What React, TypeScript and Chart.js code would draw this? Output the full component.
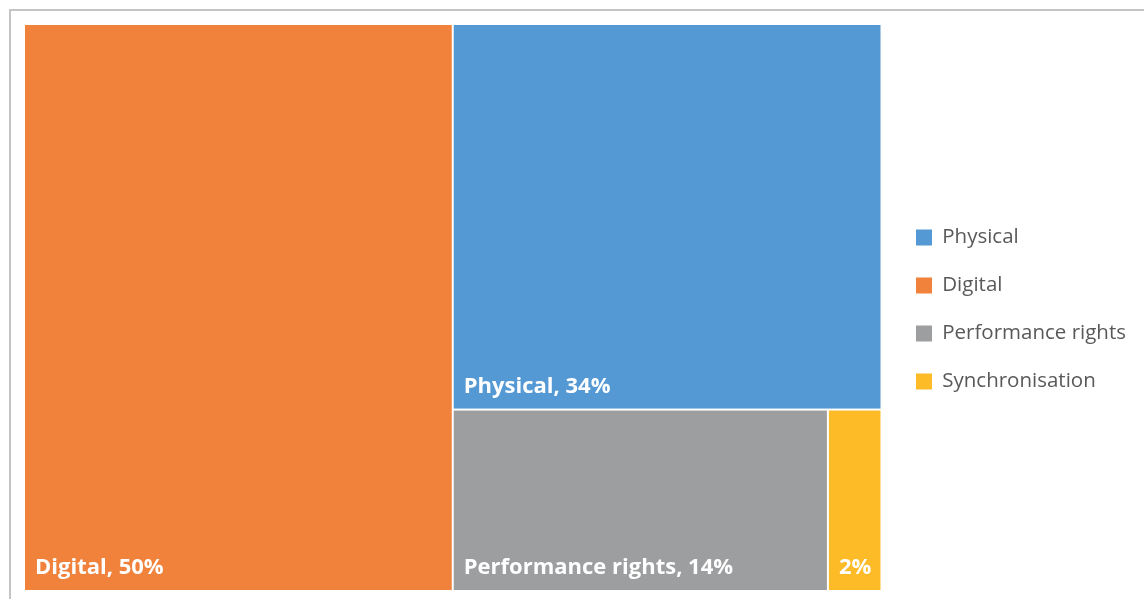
import React, { useEffect, useRef } from 'react';
import { Chart, registerables } from 'chart.js';

Chart.register(...registerables);

// ---- data ----
const categories = ['Physical', 'Digital', 'Performance rights', 'Synchronisation'];
const shares = [34, 50, 14, 2];
const colors = ['#5499D3', '#F1823C', '#9D9EA0', '#FDBB28'];

const LABEL_FONT = 'bold 22px "Open Sans"';

type Cell = { i: number; a: number };
type Rect = { i: number; x: number; y: number; w: number; h: number };

function worst(row: Cell[], side: number): number {
  const s = row.reduce((acc, c) => acc + c.a, 0);
  const mx = Math.max(...row.map((c) => c.a));
  const mn = Math.min(...row.map((c) => c.a));
  return Math.max((side * side * mx) / (s * s), (s * s) / (side * side * mn));
}

function squarify(cells: Cell[], x0: number, y0: number, w0: number, h0: number): Rect[] {
  const out: Rect[] = [];
  let remaining = cells.slice();
  let x = x0, y = y0, w = w0, h = h0;
  while (remaining.length) {
    const side = Math.min(w, h);
    let row = [remaining[0]];
    let k = 1;
    while (k < remaining.length) {
      const cand = [...row, remaining[k]];
      if (worst(cand, side) <= worst(row, side)) {
        row = cand;
        k++;
      } else break;
    }
    remaining = remaining.slice(k);
    const s = row.reduce((acc, c) => acc + c.a, 0);
    if (w >= h) {
      const rw = s / h;
      let cy = y;
      for (const c of row) {
        const rh = c.a / rw;
        out.push({ i: c.i, x, y: cy, w: rw, h: rh });
        cy += rh;
      }
      x += rw;
      w -= rw;
    } else {
      const rh = s / w;
      let cx = x;
      for (const c of row) {
        const rw = c.a / rh;
        out.push({ i: c.i, x: cx, y, w: rw, h: rh });
        cx += rw;
      }
      y += rh;
      h -= rh;
    }
  }
  return out;
}

const treemapPlugin = {
  id: 'treemapCells',
  afterLayout(chart: any) {
    const lg = chart.legend;
    if (lg) {
      lg.left += 7;
      lg.right += 7;
      lg.top += 2;
      lg.bottom += 2;
    }
  },
  beforeDatasetsDraw(chart: any) {
    const { ctx, chartArea, scales } = chart;
    const W = chartArea.width;
    const H = chartArea.height;
    const total = shares.reduce((a, b) => a + b, 0);
    const cells = shares
      .map((v, i) => ({ i, a: (v / total) * W * H }))
      .sort((p, q) => q.a - p.a);
    const rects = squarify(cells, 0, 0, W, H);
    ctx.save();
    for (const r of rects) {
      const px0 = scales.x.getPixelForValue((r.x / W) * 100);
      const px1 = scales.x.getPixelForValue(((r.x + r.w) / W) * 100);
      const py0 = scales.y.getPixelForValue((r.y / H) * 100);
      const py1 = scales.y.getPixelForValue(((r.y + r.h) / H) * 100);
      ctx.fillStyle = colors[r.i];
      ctx.fillRect(px0 + 1, py0 + 1, px1 - px0 - 2, py1 - py0 - 2);
      const pct = shares[r.i] + '%';
      const full = categories[r.i] + ', ' + pct;
      ctx.font = LABEL_FONT;
      const text = ctx.measureText(full).width + 24 <= px1 - px0 ? full : pct;
      ctx.fillStyle = '#ffffff';
      ctx.textAlign = 'left';
      ctx.textBaseline = 'alphabetic';
      ctx.fillText(text, px0 + 11, py1 - 17);
    }
    ctx.restore();
  },
};

export default function App() {
  const ref = useRef<HTMLCanvasElement | null>(null);
  useEffect(() => {
    if (!ref.current) return;
    const chart = new Chart(ref.current, {
      type: 'scatter',
      data: {
        datasets: categories.map((c, i) => ({
          label: c,
          data: [] as any[],
          backgroundColor: colors[i],
          borderColor: colors[i],
          borderWidth: 0,
        })),
      },
      options: {
        responsive: false,
        animation: false,
        layout: { padding: { left: 24, top: 24, bottom: 8, right: 15 } },
        scales: {
          x: { type: 'linear', min: 0, max: 100, display: false },
          y: { type: 'linear', min: 0, max: 100, reverse: true, display: false },
        },
        plugins: {
          tooltip: { enabled: false },
          legend: {
            position: 'right',
            labels: {
              boxWidth: 16,
              boxHeight: 16,
              padding: 27.5,
              color: '#595959',
              font: { family: '"Open Sans"', size: 20.5 },
            },
          },
        },
      },
      plugins: [treemapPlugin],
    });
    return () => chart.destroy();
  }, []);
  return (
    <div style={{ position: 'absolute', left: 0, top: 0, width: 1144, height: 599, background: '#fff', overflow: 'hidden' }}>
      <div
        style={{
          position: 'absolute',
          left: 9,
          top: 9,
          width: 1140,
          height: 600,
          borderTop: '2px solid #c4c4c4',
          borderLeft: '2px solid #c4c4c4',
        }}
      />
      <canvas ref={ref} width={1144} height={599} style={{ position: 'absolute', left: 0, top: 0 }} />
    </div>
  );
}
